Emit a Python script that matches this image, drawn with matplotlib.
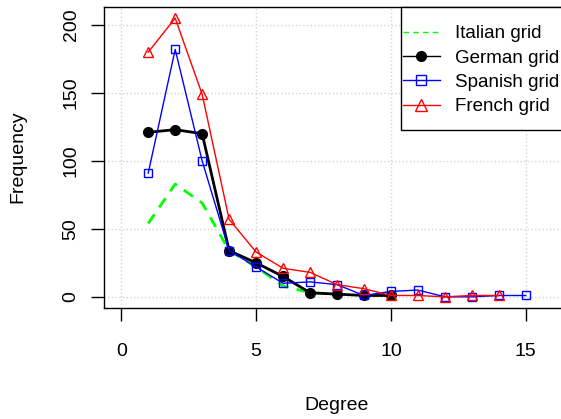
import numpy as np
import matplotlib
matplotlib.use('Agg')
import matplotlib.pyplot as plt
from matplotlib.patches import Rectangle
from matplotlib.lines import Line2D

plt.rcParams['font.family'] = ['Liberation Sans', 'DejaVu Sans']

# degree distributions of the four grids
deg_it = [1, 2, 3, 4, 5, 6, 7, 8]
freq_it = [54, 83, 69, 34, 22, 8, 3, 2]

deg_de = [1, 2, 3, 4, 5, 6, 7, 8, 9, 10]
freq_de = [121, 123, 120, 34, 25, 15, 3, 2, 1, 1]

deg_es = [1, 2, 3, 4, 5, 6, 7, 8, 9, 10, 11, 12, 13, 14, 15]
freq_es = [91, 182, 100, 34, 22, 10, 11, 9, 1, 4, 5, 0, 0, 1, 1]

deg_fr = [1, 2, 3, 4, 5, 6, 7, 8, 9, 10, 11, 12, 13, 14]
freq_fr = [180, 205, 149, 57, 33, 21, 18, 9, 6, 1, 1, 0, 1, 1]

labels = ['Italian grid', 'German grid', 'Spanish grid', 'French grid']
xticks = [0, 5, 10, 15]
yticks = [0, 50, 100, 150, 200]

W, H = 561, 419
fig = plt.figure(figsize=(W / 100, H / 100), dpi=100)
ax = fig.add_axes([104 / W, (H - 308) / H, 466 / W, 301 / H])

ax.plot(deg_it, freq_it, color='#00ff00', lw=2, linestyle=(0, (4, 3)),
        zorder=3)
ax.plot(deg_de, freq_de, color='black', lw=2, marker='o', ms=7, zorder=4)
ax.plot(deg_es, freq_es, color='#0000ff', lw=1, marker='s', ms=6,
        mfc='none', mew=1, zorder=5)
ax.plot(deg_fr, freq_fr, color='#ff0000', lw=1, marker='^', ms=7,
        mfc='none', mew=1, zorder=6)

ax.set_xlim(-0.64, 16.64)
ax.set_ylim(-8.2, 213.2)
ax.set_xticks(xticks)
ax.set_yticks(yticks)
ax.grid(True, color='#d3d3d3', linestyle=':', lw=1)
ax.tick_params(length=9.5, width=1, labelsize=14)
ax.tick_params(axis='x', pad=16)
ax.tick_params(axis='y', pad=8, labelrotation=90)
for lab in ax.get_yticklabels():
    lab.set_va('center')
for s in ax.spines.values():
    s.set_linewidth(1)

fig.text(18 / W, 1 - 157 / H, 'Frequency', rotation=90, ha='center',
         va='center', fontsize=14)
fig.text(337 / W, 1 - 405 / H, 'Degree', ha='center', va='center',
         fontsize=14)

# legend handles drawn thin, as R's legend() does
handles = [
    Line2D([], [], color='#00ff00', lw=1, linestyle=(0, (4, 3))),
    Line2D([], [], color='black', lw=1, marker='o', ms=7),
    Line2D([], [], color='#0000ff', lw=1, marker='s', ms=7, mfc='none'),
    Line2D([], [], color='#ff0000', lw=1, marker='^', ms=8, mfc='none'),
]
box = Rectangle((401 / W, 1 - 130 / H), 200 / W, 123 / H,
                transform=fig.transFigure, facecolor='white',
                edgecolor='black', lw=1, zorder=7, clip_on=False)
ax.add_patch(box)
leg = ax.legend(handles, labels, loc='upper left',
                bbox_to_anchor=(403 / W, 1 - 25 / H),
                bbox_transform=fig.transFigure, borderaxespad=0,
                borderpad=0, fontsize=13.5, frameon=False,
                handlelength=1.97, labelspacing=0.39, handletextpad=0.8)
leg.set_zorder(8)

fig.savefig('out.png', dpi=100)
